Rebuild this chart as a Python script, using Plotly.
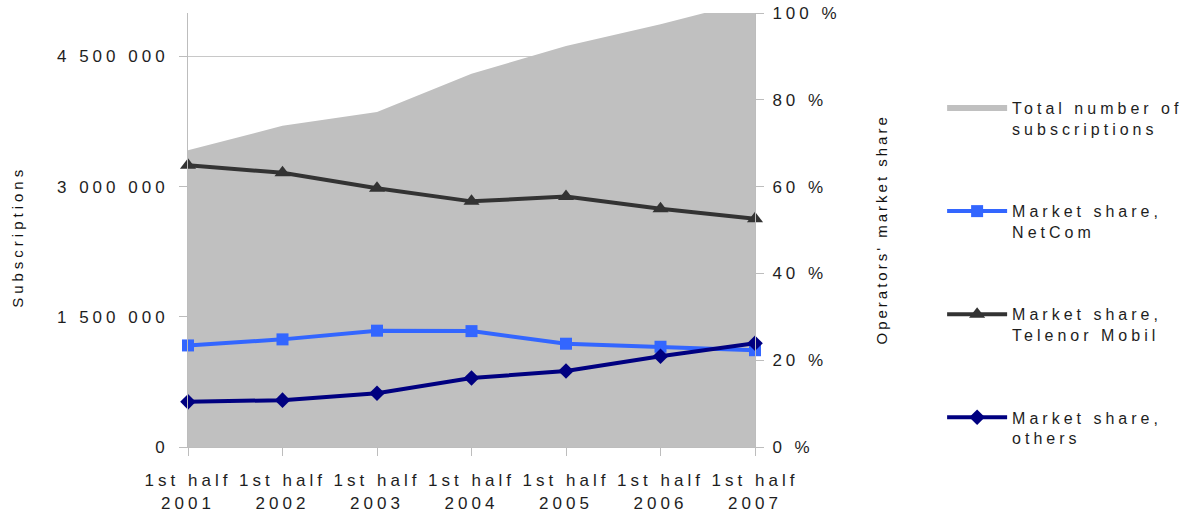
import plotly.graph_objects as go

categories = ["1st half<br>2001", "1st half<br>2002", "1st half<br>2003", "1st half<br>2004",
              "1st half<br>2005", "1st half<br>2006", "1st half<br>2007"]
total_subscriptions = [3420000, 3700000, 3860000, 4300000, 4620000, 4870000, 5150000]
share_netcom = [23.4, 24.8, 26.8, 26.7, 23.8, 23.1, 22.3]
share_telenor = [64.9, 63.2, 59.6, 56.6, 57.7, 54.9, 52.6]
share_others = [10.4, 10.8, 12.4, 15.9, 17.5, 20.9, 23.9]

left_ticks = [0, 1500000, 3000000, 4500000]
left_ticktext = ["0", "1 500 000", "3 000 000", "4 500 000"]

FONT = "Liberation Sans, Arial, sans-serif"
TXT = "#1e1e1e"
AX = "#BDBDBD"

fig = go.Figure()
fig.add_trace(go.Scatter(
    x=categories, y=total_subscriptions, name="Total number of<br>subscriptions",
    mode="none", fill="tozeroy", fillcolor="#C0C0C0", yaxis="y", legendgroup="a",
))
fig.add_trace(go.Scatter(
    x=categories, y=share_netcom, name="Market share,<br>NetCom", yaxis="y2",
    mode="lines+markers", line=dict(color="#3366FF", width=4),
    marker=dict(symbol="square", size=12, color="#3366FF"), cliponaxis=False, legendgroup="b",
))
fig.add_trace(go.Scatter(
    x=categories, y=share_telenor, name="Market share,<br>Telenor Mobil", yaxis="y2",
    mode="lines+markers", line=dict(color="#333333", width=4),
    marker=dict(symbol="triangle-up", size=14, color="#333333"), cliponaxis=False, legendgroup="c",
))
fig.add_trace(go.Scatter(
    x=categories, y=share_others, name="Market share,<br>others", yaxis="y2",
    mode="lines+markers", line=dict(color="#000080", width=4),
    marker=dict(symbol="diamond", size=12, color="#000080"), cliponaxis=False, legendgroup="d",
))

fig.update_layout(
    width=1194, height=518,
    margin=dict(l=188, r=439, t=13, b=71, autoexpand=False),
    paper_bgcolor="white", plot_bgcolor="white",
    font=dict(family=FONT, size=17, color=TXT),
    xaxis=dict(
        type="category", range=[0, 6], showgrid=False, zeroline=False, automargin=False,
        showline=True, linecolor=AX, linewidth=1,
        ticks="outside", ticklen=8, tickcolor=AX, ticklabelstandoff=10,
        tickfont=dict(size=17, color=TXT),
    ),
    yaxis=dict(
        range=[0, 5000000], tickvals=left_ticks, ticktext=left_ticktext, automargin=False,
        showgrid=True, gridcolor="#C8C8C8", gridwidth=1, zeroline=False,
        showline=True, linecolor=AX, linewidth=1,
        ticks="outside", ticklen=8, tickcolor=AX, ticklabelstandoff=7,
        tickfont=dict(size=17, color=TXT),
    ),
    yaxis2=dict(
        range=[0, 100], dtick=20, ticksuffix=" %", overlaying="y", side="right", automargin=False,
        showgrid=False, zeroline=False, showline=True, linecolor=AX, linewidth=1,
        ticks="outside", ticklen=8, tickcolor=AX, ticklabelstandoff=5,
        tickfont=dict(size=17, color=TXT),
    ),
    legend=dict(
        x=1.33, xanchor="left", y=0.82, yanchor="top",
        traceorder="grouped", tracegroupgap=58.5, valign="top",
        itemwidth=60, bgcolor="rgba(0,0,0,0)",
        font=dict(size=16, color=TXT),
    ),
    showlegend=True,
    annotations=[
        dict(text="Subscriptions", xref="paper", yref="paper", x=-0.300, y=0.484,
             textangle=-90, showarrow=False, xanchor="center", yanchor="middle",
             font=dict(size=15, color="#111111")),
        dict(text="Operators' market share", xref="paper", yref="paper", x=1.222, y=0.502,
             textangle=-90, showarrow=False, xanchor="center", yanchor="middle",
             font=dict(size=15, color="#111111")),
    ],
)

post = """
document.body.style.margin = '0';
document.body.style.padding = '0';
var gd = document.getElementById('{plot_id}');
function ls(){
  gd.querySelectorAll('text').forEach(function(t){
    var s = (t.textContent || '');
    t.style.letterSpacing = (s.indexOf('Operators') === 0) ? '3px' : '4px';
  });
  gd.querySelectorAll('.legend .scrollbox, .legend').forEach(function(s){ s.removeAttribute('clip-path'); });
}
ls();
gd.on('plotly_afterplot', ls);
"""
fig.write_html("out.html", post_script=post, config={"displayModeBar": False})
